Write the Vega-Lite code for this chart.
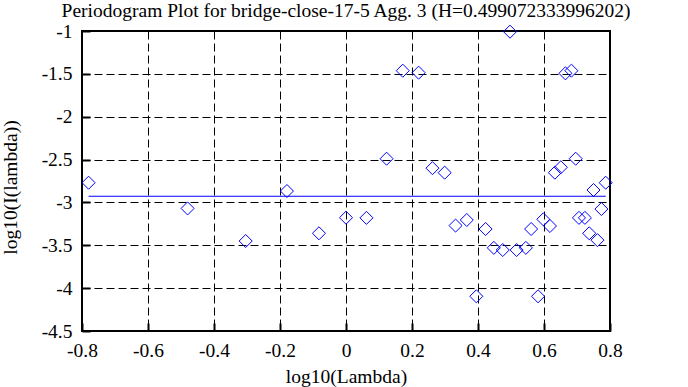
{
  "$schema": "https://vega.github.io/schema/vega-lite/v6.json",
  "autosize": {"type": "none"},
  "width": 528,
  "height": 300,
  "padding": {"left": 82, "top": 31, "right": 78, "bottom": 56},
  "background": "white",
  "title": {
    "text": "Periodogram Plot for bridge-close-17-5 Agg. 3 (H=0.499072333996202)",
    "anchor": "middle",
    "frame": "group",
    "offset": 0,
    "font": "Liberation Serif",
    "fontSize": 19.5,
    "fontWeight": "normal",
    "color": "black"
  },
  "config": {
    "view": {"stroke": "black", "strokeWidth": 2},
    "axis": {
      "grid": true,
      "gridColor": "black",
      "gridOpacity": 1,
      "gridDash": [8, 4],
      "gridWidth": 1,
      "domain": false,
      "ticks": true,
      "tickColor": "black",
      "tickWidth": 2,
      "tickSize": -8,
      "labelFlush": false,
      "labelOverlap": false,
      "labelFont": "Liberation Serif",
      "labelFontSize": 19.5,
      "labelColor": "black",
      "titleFont": "Liberation Serif",
      "titleFontSize": 19.5,
      "titleFontWeight": "normal",
      "titleColor": "black"
    }
  },
  "datasets": {
    "pts": [
      {"lam": -0.78, "val": -2.77},
      {"lam": -0.48, "val": -3.07},
      {"lam": -0.304, "val": -3.45},
      {"lam": -0.179, "val": -2.867},
      {"lam": -0.082, "val": -3.36},
      {"lam": 0.0, "val": -3.178},
      {"lam": 0.062, "val": -3.18},
      {"lam": 0.123, "val": -2.49},
      {"lam": 0.172, "val": -1.463},
      {"lam": 0.22, "val": -1.486},
      {"lam": 0.262, "val": -2.6},
      {"lam": 0.299, "val": -2.653},
      {"lam": 0.332, "val": -3.27},
      {"lam": 0.366, "val": -3.205},
      {"lam": 0.395, "val": -4.095},
      {"lam": 0.423, "val": -3.31},
      {"lam": 0.448, "val": -3.53},
      {"lam": 0.475, "val": -3.555},
      {"lam": 0.497, "val": -1.008},
      {"lam": 0.517, "val": -3.555},
      {"lam": 0.545, "val": -3.53},
      {"lam": 0.561, "val": -3.31},
      {"lam": 0.582, "val": -4.095},
      {"lam": 0.598, "val": -3.197},
      {"lam": 0.618, "val": -3.275},
      {"lam": 0.633, "val": -2.653},
      {"lam": 0.651, "val": -2.59},
      {"lam": 0.665, "val": -1.494},
      {"lam": 0.683, "val": -1.463},
      {"lam": 0.696, "val": -2.49},
      {"lam": 0.706, "val": -3.18},
      {"lam": 0.724, "val": -3.18},
      {"lam": 0.737, "val": -3.36},
      {"lam": 0.75, "val": -2.855},
      {"lam": 0.762, "val": -3.44},
      {"lam": 0.774, "val": -3.077},
      {"lam": 0.787, "val": -2.77}
    ],
    "fit": [
      {"x1": -0.78, "x2": 0.787, "y": -2.928}
    ]
  },
  "layer": [
    {
      "data": {"name": "pts"},
      "mark": {"type": "point", "shape": "diamond", "filled": false, "color": "#0000ff", "size": 170, "strokeWidth": 1, "opacity": 1},
      "encoding": {
        "x": {
          "field": "lam", "type": "quantitative",
          "scale": {"domain": [-0.8, 0.8], "nice": false, "zero": false},
          "axis": {
            "title": "log10(Lambda)",
            "values": [-0.8, -0.6, -0.4, -0.2, 0, 0.2, 0.4, 0.6, 0.8],
            "labelExpr": "datum.value + ''",
            "labelBaseline": "alphabetic",
            "labelPadding": 33,
            "titleBaseline": "alphabetic",
            "titleY": 51
          }
        },
        "y": {
          "field": "val", "type": "quantitative",
          "scale": {"domain": [-4.5, -1], "nice": false, "zero": false},
          "axis": {
            "title": "log10(I(lambda))",
            "values": [-4.5, -4, -3.5, -3, -2.5, -2, -1.5, -1],
            "labelExpr": "datum.value + ''",
            "labelPadding": 18,
            "titleBaseline": "alphabetic",
            "titleX": -66,
            "titleY": 156
          }
        }
      }
    },
    {
      "data": {"name": "fit"},
      "mark": {"type": "rule", "color": "#0000ff", "strokeWidth": 1},
      "encoding": {
        "x": {"field": "x1", "type": "quantitative"},
        "x2": {"field": "x2"},
        "y": {"field": "y", "type": "quantitative"}
      }
    }
  ]
}
